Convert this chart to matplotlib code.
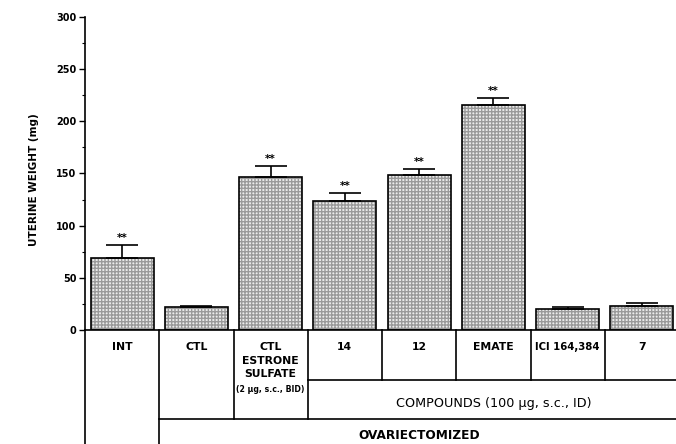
import matplotlib
matplotlib.use("Agg")
import matplotlib.pyplot as plt
import numpy as np

plt.rcParams['font.family'] = ['DejaVu Sans']

groups = ["INT", "CTL", "CTL\nESTRONE\nSULFATE", "14", "12", "EMATE", "ICI 164,384", "7"]
weights = [69, 22, 147, 124, 149, 216, 20, 23]
errors = [12, 1, 10, 7, 5, 6, 2, 3]
significant = [True, False, True, True, True, True, False, False]
dose_note = "(2 µg, s.c., BID)"
compounds_label = "COMPOUNDS (100 µg, s.c., ID)"
ovx_label = "OVARIECTOMIZED"

fig = plt.figure(figsize=(6.76, 4.44), dpi=100)
ax = fig.add_axes([85 / 676, 0.2568, 594 / 676, 0.7049])

x = np.arange(len(groups))
# stippled fill, then a clean black outline on top
ax.bar(x, weights, width=0.85, color='#ececec', edgecolor='#9a9a9a',
       hatch='+++++', linewidth=0, zorder=2)
ax.bar(x, weights, width=0.85, fill=False, edgecolor='black', linewidth=1.2, zorder=3)
ax.errorbar(x, weights, yerr=[np.zeros(len(errors)), errors], fmt='none',
            ecolor='black', elinewidth=1.2, capsize=11.5, capthick=1.2, zorder=4)
for xi, w, e, s in zip(x, weights, errors, significant):
    if s:
        ax.text(xi, w + e + 2, "**", ha='center', va='bottom', fontsize=7.5, fontweight='bold')

ax.set_xlim(-0.5, 7.5)
ax.set_ylim(0, 300)
ax.set_yticks(np.arange(0, 301, 50))
ax.set_yticks(np.arange(25, 300, 50), minor=True)
ax.tick_params(axis='y', which='major', length=4, width=1, labelsize=7, pad=2)
ax.tick_params(axis='y', which='minor', length=2.5, width=0.8)
for lab in ax.get_yticklabels():
    lab.set_fontweight('bold')
ax.set_xticks([])
ax.spines['top'].set_visible(False)
ax.spines['right'].set_visible(False)
ax.spines['left'].set_linewidth(1.2)
ax.spines['bottom'].set_linewidth(1.2)
ax.set_ylabel("UTERINE WEIGHT (mg)", fontsize=7.5, fontweight='bold')
ax.yaxis.set_label_coords(-0.078, 0.48)

# table below the axis
lk = dict(color='black', lw=1.2, clip_on=False)
ax.plot([-0.5, -0.5], [0, -115], **lk)
ax.plot([0.5, 0.5], [0, -115], **lk)
for xv in [1.5, 2.5]:
    ax.plot([xv, xv], [0, -85.3], **lk)
for xv in [3.5, 4.5, 5.5, 6.5]:
    ax.plot([xv, xv], [0, -48], **lk)
ax.plot([2.5, 7.6], [-48, -48], **lk)
ax.plot([0.5, 7.6], [-85.3, -85.3], **lk)

for xi, g in zip(x, groups):
    fs = 7.3 if len(g) > 8 and "\n" not in g else 7.8
    ax.text(xi, -12, g, ha='center', va='top', fontsize=fs, fontweight='bold',
            linespacing=1.4)
ax.text(2, -57.5, dose_note, ha='center', va='center', fontsize=5.6, fontweight='bold')
ax.text(5, -70, compounds_label, ha='center', va='center', fontsize=9.2)
ax.text(4, -101.6, ovx_label, ha='center', va='center', fontsize=8.7, fontweight='bold')

fig.savefig("out.png", dpi=100)
